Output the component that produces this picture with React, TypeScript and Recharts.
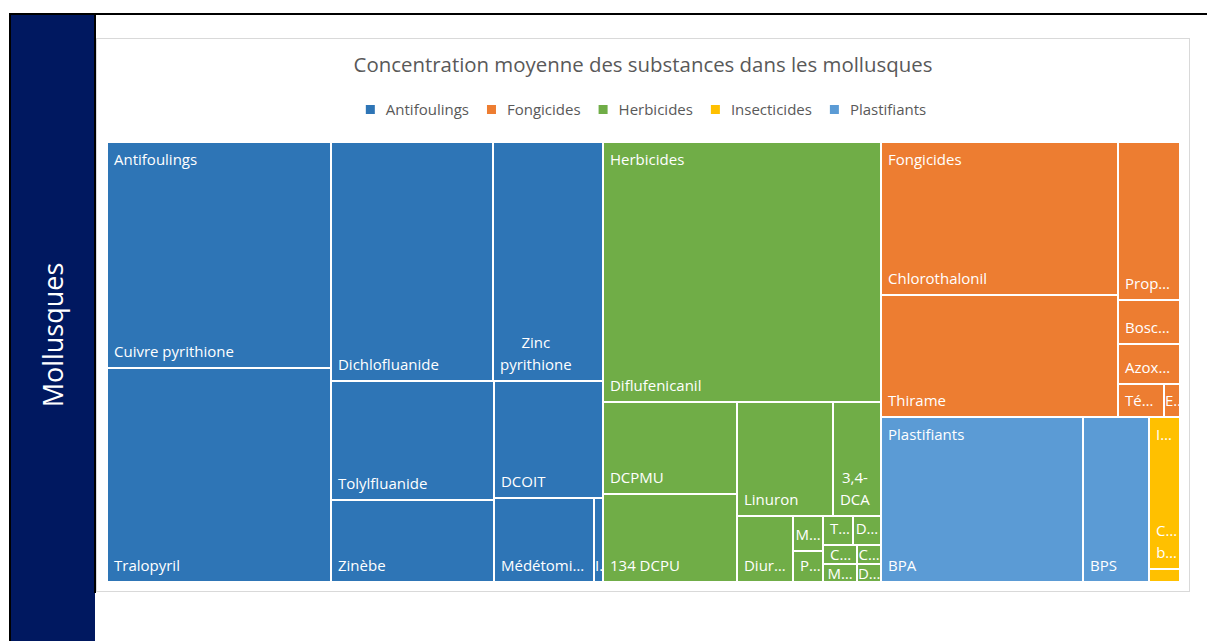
import React from 'react';
import { Treemap } from 'recharts';

// concentrations moyennes (valeurs relatives)
const antifoulingNames = ['Cuivre pyrithione', 'Tralopyril', 'Dichlofluanide', 'Zinc pyrithione', 'Tolylfluanide', 'Zinèbe', 'DCOIT', 'Médétomidine', 'Irgarol'];
const antifoulingValues = [49.5, 46.9, 38.0, 25.7, 19.0, 13.1, 12.5, 8.2, 0.83];

const herbicideNames = ['Diflufenicanil', 'DCPMU', '134 DCPU', 'Linuron', '3,4-DCA', 'Diuron', 'Métolachlore', 'Prosulfocarbe', 'Terbutryne', 'Dimétachlore', 'Chlortoluron', 'Métazachlore', 'Cyanazine', 'DEA'];
const herbicideValues = [70.9, 12.1, 11.5, 10.7, 5.4, 3.6, 1.04, 0.87, 0.86, 0.76, 0.63, 0.62, 0.44, 0.39];

const fongicideNames = ['Chlorothalonil', 'Thirame', 'Propiconazole', 'Boscalid', 'Azoxystrobine', 'Tébuconazole', 'Epoxiconazole'];
const fongicideValues = [35.4, 28.4, 9.6, 2.7, 2.4, 1.5, 0.48];

const plastifiantNames = ['BPA', 'BPS'];
const plastifiantValues = [32.6, 10.7];

const insecticideNames = ['Cyfluthrine bêta', 'Imidaclopride'];
const insecticideValues = [4.8, 0.42];

const legendNames = ['Antifoulings', 'Fongicides', 'Herbicides', 'Insecticides', 'Plastifiants'];

const COLORS: Record<string, string> = {
  Antifoulings: '#2E75B6',
  Fongicides: '#ED7D31',
  Herbicides: '#70AD47',
  Insecticides: '#FFC000',
  Plastifiants: '#5B9BD5',
};

const groups = [
  { name: 'Antifoulings', names: antifoulingNames, values: antifoulingValues },
  { name: 'Herbicides', names: herbicideNames, values: herbicideValues },
  { name: 'Fongicides', names: fongicideNames, values: fongicideValues },
  { name: 'Plastifiants', names: plastifiantNames, values: plastifiantValues },
  { name: 'Insecticides', names: insecticideNames, values: insecticideValues },
];

const data = groups.map((g) => ({
  name: g.name,
  children: g.names.map((n, i) => ({ name: n, value: g.values[i] })),
}));

// leaf -> group, and first leaf of each group (carries the group label)
const leafGroup: Record<string, string> = {};
const firstLeaf: Record<string, boolean> = {};
groups.forEach((g) => {
  g.names.forEach((n, i) => {
    leafGroup[n] = g.name;
    if (i === 0) firstLeaf[n] = true;
  });
});

const FONT = '"Open Sans", sans-serif';
const LABEL_FONT = `15px ${FONT}`;

let ctx: CanvasRenderingContext2D | null = null;
const measure = (text: string, font = LABEL_FONT) => {
  if (!ctx) ctx = document.createElement('canvas').getContext('2d');
  if (!ctx) return text.length * 8;
  ctx.font = font;
  return ctx.measureText(text).width;
};

const fit = (text: string, maxW: number) => {
  if (measure(text) <= maxW) return text;
  for (let n = text.length - 1; n >= 1; n--) {
    const t = text.slice(0, n).trimEnd() + '…';
    if (measure(t) <= maxW) return t;
  }
  return text[0] + '…';
};

const splitWords = (text: string) => text.split(/\s+|(?<=-)/).filter(Boolean);

const wrapLabel = (text: string, avail: number, maxLines: number) => {
  if (measure(text) <= avail) return [text];
  const words = splitWords(text);
  if (words.length < 2 || maxLines < 2) return [fit(text, avail)];
  const lines: string[] = [];
  let cur = '';
  words.forEach((w) => {
    const joined = cur ? (cur.endsWith('-') ? cur + w : cur + ' ' + w) : w;
    if (!cur || measure(joined) <= avail) cur = joined;
    else {
      lines.push(cur);
      cur = w;
    }
  });
  if (cur) lines.push(cur);
  return lines.slice(0, maxLines).map((l) => fit(l, avail));
};

const TreemapCell = (props: any) => {
  const { x, y, width, height, depth, name } = props;
  if (depth !== 2 || width <= 0 || height <= 0) return <g />;
  const group = leafGroup[name];
  const fill = COLORS[group];
  const clipId = `clip-${name.replace(/[^a-zA-Z0-9]/g, '_')}`;
  const bottom = y + height;
  const lineH = 22;
  const showLabel = height >= 15;
  const avail = Math.max(4, width - 14);
  const maxLines = Math.max(1, Math.floor((height - 6) / lineH));
  const lines = showLabel ? wrapLabel(name, avail, maxLines) : [];
  const blockW = Math.max(0, ...lines.map((l) => measure(l)));
  const padX = blockW + 9 <= width ? 7 : Math.max(1, (width - blockW) / 2);
  const off = Math.min(11, Math.max(2, height - 15));
  let groupLabel: string | null = null;
  if (firstLeaf[name]) groupLabel = fit(group, avail);

  return (
    <g>
      <rect x={x} y={y} width={width} height={height} fill={fill} stroke="#fff" strokeWidth={2} />
      <clipPath id={clipId}>
        <rect x={x + 1} y={y + 1} width={Math.max(0, width - 2)} height={Math.max(0, height - 2)} />
      </clipPath>
      <g clipPath={`url(#${clipId})`} style={{ fontFamily: FONT, fontSize: 15 }} fill="#fff" stroke="none">
        {groupLabel && (
          <text x={x + 7} y={y + 23} stroke="none">
            {groupLabel}
          </text>
        )}
        {lines.map((l, i) => (
          <text
            key={i}
            x={x + padX + blockW / 2}
            y={bottom - off - (lines.length - 1 - i) * lineH}
            textAnchor="middle"
            stroke="none"
          >
            {l}
          </text>
        ))}
      </g>
    </g>
  );
};

const TITLE = 'Concentration moyenne des substances dans les mollusques';

const Legend = () => {
  const gap = 18;
  const widths = legendNames.map((n) => 20 + measure(n, `15px ${FONT}`));
  const total = widths.reduce((a, b) => a + b, 0) + gap * (legendNames.length - 1);
  let cx = 646 - total / 2;
  return (
    <g>
      {legendNames.map((n, i) => {
        const x0 = cx;
        cx += widths[i] + gap;
        return (
          <g key={n}>
            <rect x={x0} y={105} width={9} height={9} fill={COLORS[n]} />
            <text x={x0 + 20} y={115} fill="#595959" style={{ fontFamily: FONT, fontSize: 15 }}>
              {n}
            </text>
          </g>
        );
      })}
    </g>
  );
};

const App = () => {
  return (
    <div style={{ position: 'absolute', left: 0, top: 0, width: 1207, height: 641, background: '#fff' }}>
      <svg width={1207} height={641} style={{ position: 'absolute', left: 0, top: 0 }}>
        <rect x={10} y={14} width={85} height={627} fill="#001860" />
        <rect x={9} y={13} width={1198} height={2} fill="#000" />
        <rect x={9} y={13} width={2} height={628} fill="#000" />
        <rect x={94} y={13} width={2} height={580} fill="#000" />
        <rect x={96.5} y={38.5} width={1093} height={553} fill="#fff" stroke="#d9d9d9" />
        <text
          transform="translate(63,335) rotate(-90)"
          textAnchor="middle"
          fill="#fff"
          style={{ fontFamily: FONT, fontSize: 27 }}
        >
          Mollusques
        </text>
        <text x={643} y={72} textAnchor="middle" fill="#595959" style={{ fontFamily: FONT, fontSize: 20.4 }}>
          {TITLE}
        </text>
        <Legend />
      </svg>
      <div style={{ position: 'absolute', left: 107, top: 142 }}>
        <Treemap
          width={1073}
          height={440}
          data={data}
          dataKey="value"
          nameKey="name"
          aspectRatio={1.2}
          stroke="#fff"
          isAnimationActive={false}
          content={(p: any) => <TreemapCell {...p} />}
        />
      </div>
    </div>
  );
};

export default App;
